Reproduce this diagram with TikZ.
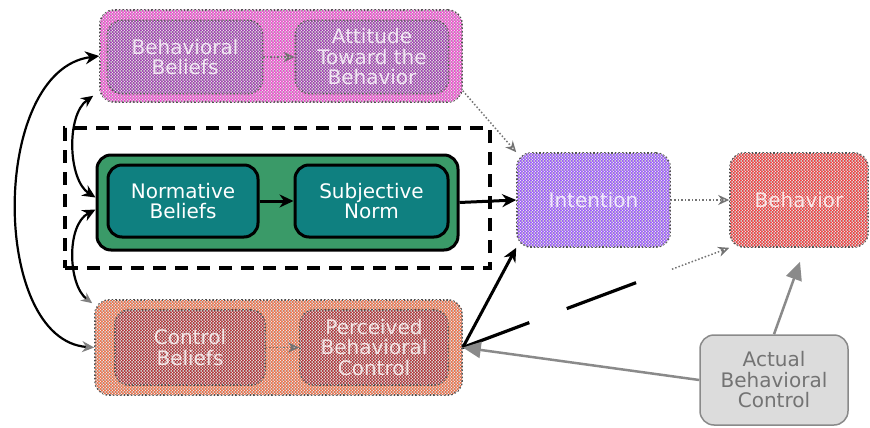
\documentclass[tikz,border=0pt]{standalone}
\usepackage{fontspec}
\setmainfont{DejaVu Sans}
\usetikzlibrary{arrows.meta,patterns,calc}
\definecolor{pinkO}{HTML}{F048D0}
\definecolor{purpI}{HTML}{A040B0}
\definecolor{greenO}{HTML}{3A9A68}
\definecolor{tealI}{HTML}{0F8080}
\definecolor{orangeO}{HTML}{F07048}
\definecolor{redI}{HTML}{B03438}
\definecolor{intC}{HTML}{9C58FF}
\definecolor{behC}{HTML}{F04040}
\definecolor{abcF}{HTML}{DCDCDC}
\definecolor{abcD}{HTML}{8A8A8A}
\begin{document}
\begin{tikzpicture}[x=1pt,y=-1pt,
  txt/.style={align=center, font=\fontsize{20}{20.5}\selectfont, inner sep=0pt},
  fadebox/.style={txt, draw=black!70, dotted, line width=1.6pt, rounded corners=14pt,
     text=white, text opacity=0.8,
     postaction={pattern=north east lines, pattern color=black!25},
     postaction={pattern=north west lines, pattern color=black!25},
     postaction={pattern=crosshatch dots, pattern color=white}},
  solidbox/.style={txt, draw=black, line width=3pt, rounded corners=14pt},
  blk/.style={line width=3pt, -{Stealth[length=14pt,width=13pt]}},
  curv/.style={line width=2.2pt},
  fad/.style={black!55, dotted, line width=1.5pt, -{Stealth[length=11pt,width=10pt,open]}},
  gra/.style={abcD, line width=2.5pt, -{Triangle[length=18pt,width=16pt]}}]
\useasboundingbox (0,0) rectangle (870,428);

% top (behavioral beliefs / attitude)
\node[fadebox, fill=pinkO, minimum width=362pt, minimum height=92pt] (topo) at (281,56) {};
\node[fadebox, fill=purpI, minimum width=155pt, minimum height=73pt] (bb) at (185,57) {Behavioral\\Beliefs};
\node[fadebox, fill=purpI, minimum width=153pt, minimum height=73pt] (att) at (372,57) {Attitude\\Toward the\\Behavior};

% dashed frame
\node[draw=black, line width=4pt, dash pattern=on 13pt off 9pt, minimum width=425pt, minimum height=140pt] (dbox) at (277.5,198) {};

% green normative group
\node[solidbox, fill=greenO, minimum width=361pt, minimum height=95pt] (gro) at (277.5,202.5) {};
\node[solidbox, fill=tealI, text=white, minimum width=150pt, minimum height=72pt] (nb) at (183,201) {Normative\\Beliefs};
\node[solidbox, fill=tealI, text=white, minimum width=153pt, minimum height=72pt] (sn) at (371.5,201) {Subjective\\Norm};

% bottom (control beliefs / PBC)
\node[fadebox, fill=orangeO, minimum width=367pt, minimum height=95pt] (boto) at (278.5,347.5) {};
\node[fadebox, fill=redI, minimum width=150pt, minimum height=75pt] (cb) at (190,347.5) {Control\\Beliefs};
\node[fadebox, fill=redI, minimum width=148pt, minimum height=75pt] (pbc) at (374,347.5) {Perceived\\Behavioral\\Control};

% intention / behavior
\node[fadebox, fill=intC, minimum width=153pt, minimum height=94pt] (int) at (593.5,200) {Intention};
\node[fadebox, fill=behC, minimum width=138pt, minimum height=94pt] (beh) at (799,200) {Behavior};

% actual behavioral control
\node[txt, draw=abcD, fill=abcF, line width=1.5pt, rounded corners=14pt, text=black!55,
      minimum width=148pt, minimum height=90pt] (abc) at (774,380) {Actual\\Behavioral\\Control};

% solid arrows
\draw[blk] (nb) -- (sn);
\draw[blk] (gro.east) -- (int.west);
\draw[blk] (boto.east) -- (int.south west);

% faded arrows
\draw[fad] (bb) -- (att);
\draw[fad] (cb) -- (pbc);
\draw[fad] ([yshift=12pt]topo.south east) -- (int.north west);
\draw[fad] (int) -- (beh);

% PBC -> behavior (dashed)
\path (boto.east) -- coordinate[pos=0.785] (dm) (beh.south west);
\draw[line width=3.2pt, dash pattern=on 71pt off 40pt on 74pt off 400pt] (boto.east) -- (dm);
\draw[fad] (dm) -- (beh.south west);

% actual control arrows
\draw[gra] (abc.west) -- (boto.east);
\draw[gra] (abc.north) -- ([xshift=1pt,yshift=-14pt]beh.south);

% left correlation curves
\draw[curv, {Stealth[length=12pt,width=11pt,black!50,open]}-{Stealth[length=14pt,width=13pt]}]
  (boto.west) .. controls (-10,340) and (-10,70) .. (topo.west);
\draw[curv, {Stealth[length=13pt,width=12pt]}-{Stealth[length=12pt,width=11pt]}]
  ([yshift=5pt]gro.west) .. controls (68,180) and (66,115) .. ([xshift=-6pt,yshift=7pt]topo.south west);
\draw[curv, {Stealth[length=13pt,width=12pt]}-{Stealth[length=11pt,width=10pt,black!50,open]}]
  ([yshift=-7pt]gro.west) .. controls (66,225) and (68,285) .. ([xshift=-2pt,yshift=-4pt]boto.north west);
\end{tikzpicture}
\end{document}
